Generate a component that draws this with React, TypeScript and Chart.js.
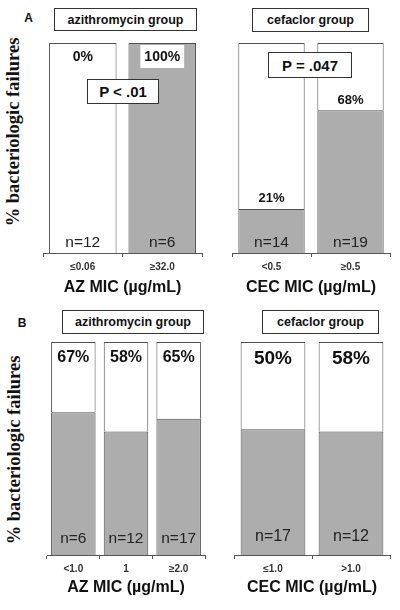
import React, { useEffect, useRef } from "react";
import { Chart, registerables } from "chart.js";
Chart.register(...registerables);

// ---- Panel A ----
const azA_categories = ["≤0.06", "≥32.0"];
const azA_failures = [0, 100];
const azA_pctLabels = ["0%", "100%"];
const azA_nLabels = ["n=12", "n=6"];

const cecA_categories = ["<0.5", "≥0.5"];
const cecA_failures = [21, 68];
const cecA_pctLabels = ["21%", "68%"];
const cecA_nLabels = ["n=14", "n=19"];

// ---- Panel B ----
const azB_categories = ["<1.0", "1", "≥2.0"];
const azB_failures = [67, 58, 64];
const azB_pctLabels = ["67%", "58%", "65%"];
const azB_nLabels = ["n=6", "n=12", "n=17"];

const cecB_categories = ["≤1.0", ">1.0"];
const cecB_failures = [59, 58];
const cecB_pctLabels = ["50%", "58%"];
const cecB_nLabels = ["n=17", "n=12"];

const SANS = "'Liberation Sans', Arial, Helvetica, sans-serif";
const SERIF = "'Liberation Serif', 'Times New Roman', serif";
const FILL = "#adadad";
const EDGE = "#505050";

type GroupProps = {
  categories: string[];
  values: number[];
  pctLabels: string[];
  nLabels: string[];
  title: string;
  left: number;
  right: number;
  areaTop: number;
  areaBottom: number;
  canvasBottom: number;
  barPct: number;
  pctMode: "top" | "fill";
  pctOffset: number;
  pctSize: number;
  nOffset: number;
  nSize: number;
};

function GroupChart(p: GroupProps) {
  const ref = useRef<HTMLCanvasElement | null>(null);
  const cw = p.right - p.left + 2;
  const ch = p.canvasBottom - p.areaTop + 1;
  useEffect(() => {
    if (!ref.current) return;
    const remainder = p.values.map((v) => 100 - v);
    const labelPlugin = {
      id: "barLabels",
      afterDatasetsDraw(chart: any) {
        const ctx = chart.ctx;
        const fillMeta = chart.getDatasetMeta(0).data;
        const totMeta = chart.getDatasetMeta(1).data;
        ctx.save();
        ctx.textAlign = "center";
        ctx.textBaseline = "middle";
        fillMeta.forEach((el: any, i: number) => {
          const x = el.x;
          const fillTop = el.y;
          const base = el.base;
          const top = totMeta[i].y;
          const ly = p.pctMode === "top" ? top + p.pctOffset : fillTop - p.pctOffset;
          ctx.font = `bold ${p.pctSize}px ${SANS}`;
          const tw = ctx.measureText(p.pctLabels[i]).width;
          if (ly > fillTop - 4 && p.values[i] > 0) {
            ctx.fillStyle = "#ffffff";
            ctx.fillRect(x - tw / 2 - 4, ly - 12, tw + 8, 23);
          }
          ctx.fillStyle = "#111111";
          ctx.fillText(p.pctLabels[i], x, ly);
          ctx.font = `${p.nSize}px ${SANS}`;
          ctx.fillStyle = "#222222";
          ctx.fillText(p.nLabels[i], x, base - p.nOffset);
        });
        ctx.restore();
      },
    };
    const edges = { top: 1, left: 1, right: 1, bottom: 0 };
    const chart = new Chart(ref.current, {
      type: "bar",
      data: {
        labels: p.categories,
        datasets: [
          {
            data: p.values,
            backgroundColor: FILL,
            borderColor: EDGE,
            borderWidth: edges,
            borderSkipped: false,
            barPercentage: p.barPct,
            categoryPercentage: 1,
          },
          {
            data: remainder,
            backgroundColor: "#ffffff",
            borderColor: EDGE,
            borderWidth: edges,
            borderSkipped: false,
            barPercentage: p.barPct,
            categoryPercentage: 1,
          },
        ],
      },
      options: {
        responsive: false,
        animation: false,
        devicePixelRatio: 1,
        layout: { padding: { left: 1, right: 1, top: 1, bottom: 0 } },
        plugins: {
          legend: { display: false },
          tooltip: { enabled: false },
          title: { display: false },
        },
        scales: {
          x: {
            stacked: true,
            grid: {
              offset: true,
              drawOnChartArea: false,
              drawTicks: true,
              tickLength: 4,
              color: "#555555",
              lineWidth: 1,
            },
            border: { display: true, color: "#555555", width: 1 },
            ticks: {
              font: { family: SANS, size: 10, weight: "bold" },
              color: "#333333",
              padding: 4,
              maxRotation: 0,
              autoSkip: false,
            },
            title: {
              display: true,
              text: p.title,
              font: { family: SANS, size: 16, weight: "bold" },
              color: "#111111",
              padding: { top: 0, bottom: 0 },
            },
            afterFit: (s: any) => {
              s.height = p.canvasBottom - p.areaBottom;
            },
          },
          y: { stacked: true, display: false, min: 0, max: 100 },
        },
      },
      plugins: [labelPlugin],
    } as any);
    return () => chart.destroy();
  }, []);
  return (
    <canvas
      ref={ref}
      width={cw}
      height={ch}
      style={{
        position: "absolute",
        left: p.left - 1,
        top: p.areaTop - 1,
        width: cw,
        height: ch,
      }}
    />
  );
}

function Box(props: {
  text: string;
  left: number;
  top: number;
  width: number;
  height: number;
  size: number;
}) {
  return (
    <div
      style={{
        position: "absolute",
        left: props.left,
        top: props.top,
        width: props.width,
        height: props.height,
        boxSizing: "border-box",
        border: "1px solid #333",
        background: "#fff",
        display: "flex",
        alignItems: "center",
        justifyContent: "center",
        fontFamily: SANS,
        fontWeight: "bold",
        fontSize: props.size,
        color: "#111",
        whiteSpace: "nowrap",
        zIndex: 2,
      }}
    >
      {props.text}
    </div>
  );
}

function Text(props: {
  text: string;
  x: number;
  y: number;
  size: number;
  family: string;
  rotate?: boolean;
}) {
  return (
    <div
      style={{
        position: "absolute",
        left: props.x,
        top: props.y,
        transform: `translate(-50%, -50%)${props.rotate ? " rotate(-90deg)" : ""}`,
        fontFamily: props.family,
        fontWeight: "bold",
        fontSize: props.size,
        lineHeight: 1,
        whiteSpace: "nowrap",
        color: "#111",
      }}
    >
      {props.text}
    </div>
  );
}

export default function App() {
  return (
    <div
      style={{
        position: "absolute",
        left: 0,
        top: 0,
        width: 400,
        height: 610,
        background: "#fff",
        overflow: "hidden",
      }}
    >
      <Text text="A" x={28.5} y={18} size={12} family={SANS} />
      <Text text="B" x={22} y={323} size={12} family={SANS} />
      <Text text="% bacteriologic failures" x={13} y={132} size={18.5} family={SERIF} rotate />
      <Text text="% bacteriologic failures" x={14} y={450} size={18.5} family={SERIF} rotate />

      <Box text="azithromycin group" left={54} top={8} width={143} height={23} size={12.5} />
      <Box text="cefaclor group" left={252} top={8} width={117} height={24} size={12.5} />
      <Box text="azithromycin group" left={62} top={310} width={142} height={24} size={12.5} />
      <Box text="cefaclor group" left={262} top={310} width={117} height={24} size={12.5} />

      <GroupChart
        categories={azA_categories}
        values={azA_failures}
        pctLabels={azA_pctLabels}
        nLabels={azA_nLabels}
        title="AZ MIC (µg/mL)"
        left={43}
        right={202}
        areaTop={43}
        areaBottom={253}
        canvasBottom={297}
        barPct={0.85}
        pctMode="top"
        pctOffset={14}
        pctSize={14}
        nOffset={10}
        nSize={15.5}
      />
      <GroupChart
        categories={cecA_categories}
        values={cecA_failures}
        pctLabels={cecA_pctLabels}
        nLabels={cecA_nLabels}
        title="CEC MIC (µg/mL)"
        left={232}
        right={390}
        areaTop={43}
        areaBottom={253}
        canvasBottom={297}
        barPct={0.84}
        pctMode="fill"
        pctOffset={10}
        pctSize={13}
        nOffset={10}
        nSize={15.5}
      />
      <GroupChart
        categories={azB_categories}
        values={azB_failures}
        pctLabels={azB_pctLabels}
        nLabels={azB_nLabels}
        title="AZ MIC (µg/mL)"
        left={47}
        right={205}
        areaTop={342}
        areaBottom={555}
        canvasBottom={597}
        barPct={0.845}
        pctMode="top"
        pctOffset={16}
        pctSize={16}
        nOffset={16.5}
        nSize={15.5}
      />
      <GroupChart
        categories={cecB_categories}
        values={cecB_failures}
        pctLabels={cecB_pctLabels}
        nLabels={cecB_nLabels}
        title="CEC MIC (µg/mL)"
        left={234}
        right={390}
        areaTop={342}
        areaBottom={555}
        canvasBottom={597}
        barPct={0.83}
        pctMode="top"
        pctOffset={17}
        pctSize={19}
        nOffset={18}
        nSize={16}
      />

      <Box text="P < .01" left={87} top={79} width={72} height={25} size={15} />
      <Box text="P = .047" left={268} top={52} width={84} height={26} size={15} />
    </div>
  );
}
